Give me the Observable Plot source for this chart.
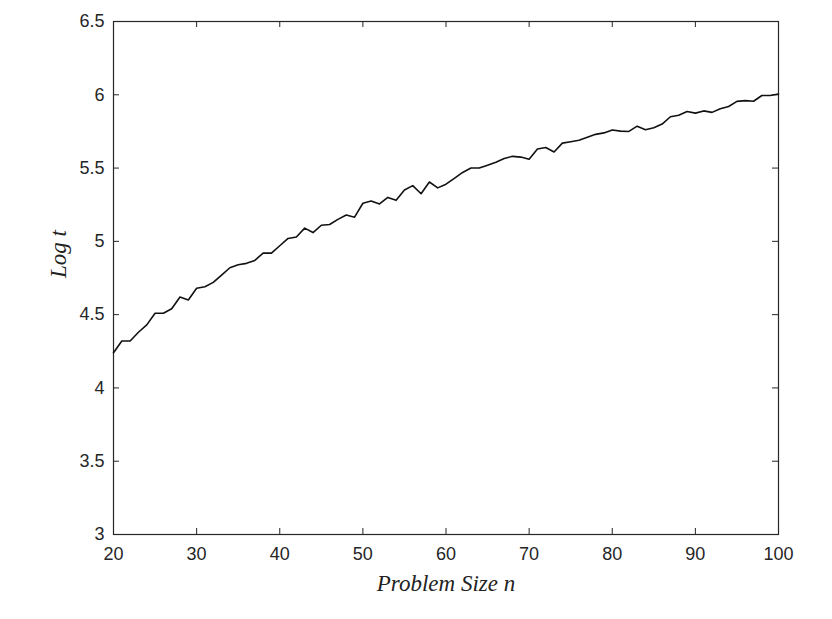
<!DOCTYPE html>
<html>
<head>
<meta charset="utf-8">
<script src="https://cdn.jsdelivr.net/npm/d3@7"></script>
<script src="https://cdn.jsdelivr.net/npm/@observablehq/plot@0.6"></script>
<style>
  html, body { margin: 0; padding: 0; background: #fff; }
  #chart svg { display: block; }
</style>
</head>
<body>
<div id="chart"></div>
<script>
const problemSize = [20,21,22,23,24,25,26,27,28,29,30,31,32,33,34,35,36,37,38,39,40,
  41,42,43,44,45,46,47,48,49,50,51,52,53,54,55,56,57,58,59,60,
  61,62,63,64,65,66,67,68,69,70,71,72,73,74,75,76,77,78,79,80,
  81,82,83,84,85,86,87,88,89,90,91,92,93,94,95,96,97,98,99,100];
const logT = [4.24,4.32,4.32,4.38,4.43,4.51,4.51,4.54,4.62,4.60,4.68,
  4.69,4.72,4.77,4.82,4.84,4.85,4.87,4.92,4.92,4.97,
  5.02,5.03,5.09,5.06,5.11,5.115,5.15,5.18,5.165,5.26,
  5.275,5.255,5.30,5.28,5.35,5.38,5.325,5.405,5.365,5.39,
  5.43,5.47,5.50,5.50,5.52,5.54,5.565,5.58,5.575,5.56,
  5.63,5.64,5.61,5.67,5.68,5.69,5.71,5.73,5.74,5.76,
  5.752,5.75,5.786,5.762,5.775,5.80,5.85,5.86,5.886,5.875,
  5.89,5.88,5.905,5.92,5.955,5.96,5.956,5.995,5.995,6.005];
const xTicks = [20,30,40,50,60,70,80,90,100];
const yTicks = [3,3.5,4,4.5,5,5.5,6,6.5];
const xLabel = "Problem Size n";
const yLabel = "Log t";

const data = problemSize.map((n, i) => ({n, t: logT[i]}));

const W = 832, H = 619;
const mL = 113, mR = 54, mT = 21, mB = 85;
const fw = W - mL - mR, fh = H - mT - mB;
const tick = 6;
const ink = "#262626";

const chart = Plot.plot({
  width: W, height: H,
  marginLeft: mL, marginRight: mR, marginTop: mT, marginBottom: mB,
  style: {fontFamily: "'Liberation Sans', Arial, sans-serif", fontSize: "18px", color: ink, background: "#fff"},
  x: {domain: [20, 100]},
  y: {domain: [3, 6.5]},
  marks: [
    Plot.axisX(xTicks, {tickSize: 0, tickPadding: 13, label: null, tickFormat: d => String(d), fill: ink}),
    Plot.axisY(yTicks, {tickSize: 0, tickPadding: 9, label: null, tickFormat: d => String(d), fill: ink}),
    Plot.tickX(xTicks, {x: d => d, insetTop: fh - tick, stroke: ink}),
    Plot.tickX(xTicks, {x: d => d, insetBottom: fh - tick, stroke: ink}),
    Plot.tickY(yTicks, {y: d => d, insetRight: fw - tick, stroke: ink}),
    Plot.tickY(yTicks, {y: d => d, insetLeft: fw - tick, stroke: ink}),
    Plot.frame({stroke: ink, strokeWidth: 1.2}),
    Plot.line(data, {x: "n", y: "t", stroke: "#111", strokeWidth: 1.6}),
    Plot.text([xLabel], {frameAnchor: "bottom", lineAnchor: "middle", dy: 49, fontFamily: "'Liberation Serif', 'Times New Roman', serif", fontStyle: "italic", fontSize: 23, fill: "#222"}),
    Plot.text([yLabel], {frameAnchor: "left", lineAnchor: "middle", rotate: -90, dx: -55, fontFamily: "'Liberation Serif', 'Times New Roman', serif", fontStyle: "italic", fontSize: 23, fill: "#222"})
  ]
});
document.getElementById("chart").appendChild(chart);
</script>
</body>
</html>
